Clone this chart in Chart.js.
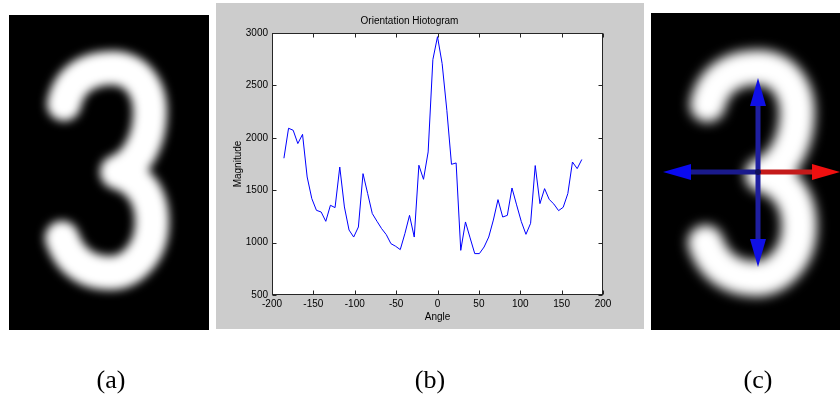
<!DOCTYPE html>
<html>
<head>
<meta charset="utf-8">
<script src="https://cdn.jsdelivr.net/npm/chart.js@4.4.1/dist/chart.umd.min.js"></script>
<style>
  body { margin: 0; background: #fff; }
  #page { position: relative; width: 840px; height: 403px; overflow: hidden; }
  #pics { position: absolute; left: 0; top: 0; }
  #panel { position: absolute; left: 216px; top: 3px; width: 428px; height: 326px; background: #cccccc; }
  .cap { position: absolute; top: 365px; width: 80px; text-align: center;
         font-family: "Liberation Serif", "Times New Roman", serif; font-size: 26px; color: #000; }
</style>
</head>
<body>
<div id="page">
  <canvas id="pics" width="840" height="403"></canvas>
  <div id="panel"><canvas id="histChart" width="428" height="326"></canvas></div>
  <div class="cap" style="left:71px">(a)</div>
  <div class="cap" style="left:390px">(b)</div>
  <div class="cap" style="left:718px">(c)</div>
</div>
<script>
// histogram values
const angles = [-185.6, -180, -174.4, -168.8, -163.1, -157.5, -151.9, -146.3, -140.6, -135,
  -129.4, -123.8, -118.1, -112.5, -106.9, -101.3, -95.6, -90, -84.4, -78.8,
  -73.1, -67.5, -61.9, -56.3, -50.6, -45, -39.4, -33.8, -28.1, -22.5,
  -16.9, -11.3, -5.6, 0, 5.6, 11.3, 16.9, 22.5, 28.1, 33.8,
  39.4, 45, 50.6, 56.3, 61.9, 67.5, 73.1, 78.8, 84.4, 90,
  95.6, 101.3, 106.9, 112.5, 118.1, 123.8, 129.4, 135, 140.6, 146.3,
  151.9, 157.5, 163.1, 168.8, 174.4];
const magnitudes = [1805, 2091, 2072, 1945, 2033, 1626, 1420, 1308, 1292, 1203,
  1356, 1334, 1721, 1340, 1120, 1053, 1149, 1658, 1468, 1277,
  1203, 1133, 1076, 990, 965, 933, 1086, 1260, 1053, 1738,
  1604, 1865, 2746, 2965, 2708, 2262, 1747, 1760, 926, 1197,
  1045, 895, 895, 958, 1053, 1215, 1410, 1244, 1260, 1521,
  1360, 1200, 1079, 1184, 1735, 1372, 1515, 1412, 1368, 1305,
  1337, 1468, 1769, 1706, 1793];
const xTicks = [-200, -150, -100, -50, 0, 50, 100, 150, 200];
const yTicks = [500, 1000, 1500, 2000, 2500, 3000];

const axisFont = { family: "'Liberation Sans', Arial, sans-serif", size: 10 };

//the two digit pictures (a) and (c)
function threePath(ctx) {
  ctx.beginPath();
  ctx.moveTo(64, 104);
  ctx.bezierCurveTo(70, 76, 92, 68, 112, 68);
  ctx.bezierCurveTo(138, 68, 150, 90, 150, 112);
  ctx.bezierCurveTo(150, 140, 137, 165, 117, 172);
  ctx.bezierCurveTo(138, 178, 152, 195, 152, 222);
  ctx.bezierCurveTo(152, 252, 132, 273, 110, 273);
  ctx.bezierCurveTo(88, 273, 70, 262, 62, 238);
}

function drawThree(ctx, box, tf, blur) {
  ctx.save();
  ctx.fillStyle = '#000';
  ctx.fillRect(box[0], box[1], box[2], box[3]);
  ctx.beginPath();
  ctx.rect(box[0], box[1], box[2], box[3]);
  ctx.clip();
  ctx.setTransform(tf[0], 0, 0, tf[1], tf[2], tf[3]);
  ctx.filter = 'blur(' + blur + 'px)';
  threePath(ctx);
  ctx.strokeStyle = '#fff';
  ctx.lineWidth = 34;
  ctx.lineCap = 'round';
  ctx.lineJoin = 'round';
  ctx.stroke();
  ctx.restore();
}

function arrow(ctx, x1, y1, x2, y2, lineCol, headCol) {
  const len = 28, half = 8;
  const a = Math.atan2(y2 - y1, x2 - x1);
  const bx = x2 - len * Math.cos(a), by = y2 - len * Math.sin(a);
  ctx.strokeStyle = lineCol;
  ctx.lineWidth = 5;
  ctx.beginPath();
  ctx.moveTo(x1, y1);
  ctx.lineTo(bx, by);
  ctx.stroke();
  ctx.fillStyle = headCol;
  ctx.beginPath();
  ctx.moveTo(x2, y2);
  ctx.lineTo(bx + half * Math.sin(a), by - half * Math.cos(a));
  ctx.lineTo(bx - half * Math.sin(a), by + half * Math.cos(a));
  ctx.closePath();
  ctx.fill();
}

const pics = document.getElementById('pics').getContext('2d');
drawThree(pics, [9, 15, 200, 315], [1, 1, 0, 0], 5);
drawThree(pics, [651, 13, 189, 317], [1.04, 1.03, 641.1, -2.5], 6);
pics.save();
pics.filter = 'blur(0.6px)';
arrow(pics, 758, 172, 758, 78, '#1f1fa0', '#1010e6');
arrow(pics, 758, 172, 758, 267, '#1f1fa0', '#1010e6');
arrow(pics, 758, 172, 663, 172, '#1a1a8c', '#0a0af0');
arrow(pics, 758, 172, 840, 172, '#c41a1a', '#f01010');
pics.fillStyle = '#10105a';
pics.beginPath();
pics.arc(758, 172, 3, 0, Math.PI * 2);
pics.fill();
pics.restore();

//white plot area, box and inward ticks like the original
const matlabAxes = {
  id: 'matlabAxes',
  beforeDraw(chart) {
    const { ctx, chartArea: a } = chart;
    ctx.save();
    ctx.fillStyle = '#fff';
    ctx.fillRect(a.left, a.top, a.right - a.left, a.bottom - a.top);
    ctx.restore();
  },
  afterDraw(chart) {
    const { ctx, chartArea: a, scales } = chart;
    const L = Math.round(a.left) + 0.5, R = Math.round(a.right) - 0.5;
    const T = Math.round(a.top) + 0.5, B = Math.round(a.bottom) - 0.5;
    ctx.save();
    ctx.strokeStyle = '#262626';
    ctx.lineWidth = 1;
    ctx.strokeRect(L, T, R - L, B - T);
    ctx.beginPath();
    xTicks.forEach(v => {
      const x = Math.round(scales.x.getPixelForValue(v)) + 0.5;
      ctx.moveTo(x, B); ctx.lineTo(x, B - 4);
      ctx.moveTo(x, T); ctx.lineTo(x, T + 4);
    });
    yTicks.forEach(v => {
      const y = Math.round(scales.y.getPixelForValue(v)) + 0.5;
      ctx.moveTo(L, y); ctx.lineTo(L + 4, y);
      ctx.moveTo(R, y); ctx.lineTo(R - 4, y);
    });
    ctx.stroke();
    ctx.restore();
  }
};

// setup
const data = {
  datasets: [{
    label: 'Magnitude',
    data: angles.map((a, i) => ({ x: a, y: magnitudes[i] })),
    borderColor: '#0000ff',
    borderWidth: 1,
    pointRadius: 0,
    tension: 0,
    fill: false
  }]
};

// config
const config = {
  type: 'line',
  data,
  options: {
    responsive: false,
    animation: false,
    layout: { padding: { left: 0, right: 41, top: 0, bottom: 0 } },
    plugins: {
      legend: { display: false },
      tooltip: { enabled: false },
      title: {
        display: true,
        text: 'Orientation Hiotogram',
        color: '#000',
        font: { ...axisFont, weight: 'normal' },
        padding: { top: 12, bottom: 6 }
      }
    },
    scales: {
      x: {
        type: 'linear',
        min: -200,
        max: 200,
        afterFit: s => { s.height = 34; },
        afterBuildTicks: s => { s.ticks = xTicks.map(v => ({ value: v })); },
        grid: { display: false, drawTicks: false },
        border: { display: false },
        ticks: { color: '#000', font: axisFont, padding: 3, maxRotation: 0, autoSkip: false,
          callback: value => String(value) },
        title: { display: true, text: 'Angle', color: '#000', font: axisFont, padding: { top: 0, bottom: 6 } }
      },
      y: {
        type: 'linear',
        min: 500,
        max: 3000,
        afterFit: s => { s.width = 56; },
        afterBuildTicks: s => { s.ticks = yTicks.map(v => ({ value: v })); },
        grid: { display: false, drawTicks: false },
        border: { display: false },
        ticks: { color: '#000', font: axisFont, padding: 4, callback: value => String(value) },
        title: { display: true, text: 'Magnitude', color: '#000', font: axisFont, padding: { top: 16, bottom: 0 } }
      }
    }
  },
  plugins: [matlabAxes]
};

// render init block
const histChart = new Chart(document.getElementById('histChart'), config);
</script>
</body>
</html>
